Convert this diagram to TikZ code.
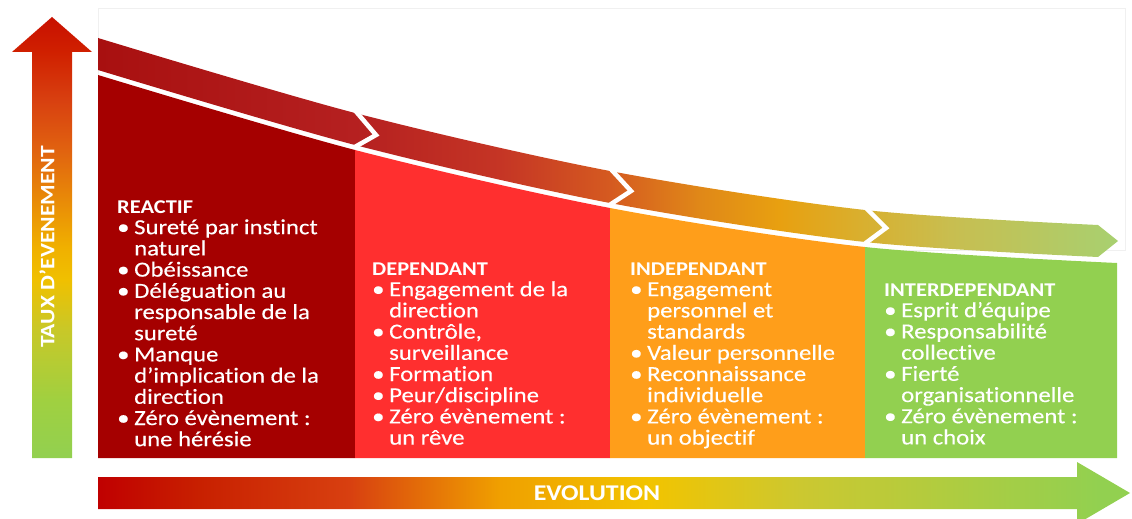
\documentclass[tikz,border=0pt]{standalone}
\usepackage{fontspec}
\setmainfont{Carlito}[FakeStretch=1.15,Ligatures={NoCommon},UprightFeatures={FakeBold=0.3}]
\usepackage{xcolor}
\definecolor{rouge1}{HTML}{A50000}
\definecolor{rouge2}{HTML}{FF2F2F}
\definecolor{orange3}{HTML}{FF9E1A}
\definecolor{vert4}{HTML}{92D050}
\definecolor{r0}{HTML}{A81010}
\definecolor{r1}{HTML}{B52020}
\definecolor{r2}{HTML}{C53525}
\definecolor{r3}{HTML}{D55A20}
\definecolor{r4}{HTML}{E08818}
\definecolor{r5}{HTML}{E8A010}
\definecolor{r6}{HTML}{D8B030}
\definecolor{r7}{HTML}{C8BE50}
\definecolor{r8}{HTML}{A8D070}
\definecolor{e0}{HTML}{C00000}
\definecolor{e1}{HTML}{C82000}
\definecolor{e2}{HTML}{D84010}
\definecolor{e3}{HTML}{F0A000}
\definecolor{e4}{HTML}{F2C400}
\definecolor{e5}{HTML}{CCC830}
\definecolor{t1}{HTML}{A0D040}
\definecolor{t2}{HTML}{C8C828}
\definecolor{t3}{HTML}{F0C000}
\definecolor{t4}{HTML}{F0B000}
\definecolor{t5}{HTML}{E06010}
\definecolor{t6}{HTML}{D02000}
\definecolor{t7}{HTML}{C81000}
\pgfdeclarehorizontalshading{ruban}{100bp}{color(0bp)=(r0); color(25bp)=(r0); color(37.6bp)=(r1); color(44.7bp)=(r2); color(50.1bp)=(r3); color(54.5bp)=(r4); color(58.4bp)=(r5); color(62.6bp)=(r6); color(66.8bp)=(r7); color(75bp)=(r8); color(100bp)=(r8)}
\pgfdeclarehorizontalshading{evolution}{100bp}{color(0bp)=(e0); color(25bp)=(e0); color(29.9bp)=(e1); color(37.2bp)=(e2); color(44.5bp)=(e3); color(51.7bp)=(e4); color(59bp)=(e5); color(73.5bp)=(vert4); color(100bp)=(vert4)}
\pgfdeclareverticalshading{taux}{100bp}{color(0bp)=(vert4); color(25bp)=(vert4); color(31.6bp)=(t1); color(39.5bp)=(t2); color(45.2bp)=(t3); color(48.9bp)=(t4); color(60.3bp)=(t5); color(65.6bp)=(e2); color(71bp)=(t6); color(75bp)=(t7); color(100bp)=(t7)}
\newcommand{\puce}{\makebox[17pt][l]{\textbullet}}
\newcommand{\suite}{\hspace*{17pt}}
\newcommand{\titre}[1]{{\bfseries\fontsize{19.5}{21.2}\selectfont #1}}

\begin{document}
\begin{tikzpicture}[x=1pt,y=-1pt]
	\tikzset{colonne/.style={anchor=base west,inner sep=0pt,text=white,font=\fontsize{21.5}{21.2}\selectfont},
		chevron/.style={draw=white,line width=4.5pt,miter limit=10}}
	\useasboundingbox (0,0) rectangle (1132,519);
	
	\draw[black!6] (98,8) rectangle (1125,250);
	\shade[shading=taux] (32,458) -- (32,52) -- (12,52) -- (52,17) -- (92,52) -- (72,52) -- (72,458) -- cycle;
	\shade[shading=ruban] plot[smooth] coordinates {(98,38) (355,113) (610,171) (865,210) (1098,225)} -- (1118,241) -- plot[smooth] coordinates {(1098,257) (865,242) (610,203) (355,145) (98,70)} -- cycle;
	\draw[chevron] (353,108) -- (376,135) -- (353,148);
	\draw[chevron] (608,166) -- (631,191) -- (608,206);
	\draw[chevron] (863,205) -- (886,228) -- (863,245);
	\foreach \xa/\xb/\coul in {98/355/rouge1, 355/610/rouge2, 610/865/orange3, 865/1117/vert4} {
		\begin{scope}
			\clip (\xa,0) rectangle (\xb,458);
			\fill[\coul] plot[smooth] coordinates {(98,75) (355,150) (610,208) (865,247) (1117,263)} -- (1117,458) -- (98,458) -- cycle;
		\end{scope}
	}
	\shade[shading=evolution] (98,477) -- (1077,477) -- (1077,462) -- (1130,493) -- (1077,524) -- (1077,509) -- (98,509) -- cycle;
	
	\node[text=white,font=\bfseries\fontsize{20.5}{22}\selectfont,rotate=90] (taux) at (47,247) {TAUX D’EVENEMENT};
	\node[text=white,font=\bfseries\fontsize{22.5}{24}\selectfont] (evolution) at (597,493) {EVOLUTION};
	
	\node[colonne] (reactif) at (117,213) {\parbox[t]{240pt}{\titre{REACTIF}\\
		\puce Sureté par instinct\\ \suite naturel\\
		\puce Obéissance\\
		\puce Déléguation au\\ \suite responsable de la\\ \suite sureté\\
		\puce Manque\\ \suite d’implication de la\\ \suite direction\\
		\puce Zéro évènement :\\ \suite une hérésie}};
	\node[colonne] (dependant) at (372,275) {\parbox[t]{240pt}{\titre{DEPENDANT}\\
		\puce Engagement de la\\ \suite direction\\
		\puce Contrôle,\\ \suite surveillance\\
		\puce Formation\\
		\puce Peur/discipline\\
		\puce Zéro évènement :\\ \suite un rêve}};
	\node[colonne] (independant) at (630,275) {\parbox[t]{240pt}{\titre{INDEPENDANT}\\
		\puce Engagement\\ \suite personnel et\\ \suite standards\\
		\puce Valeur personnelle\\
		\puce Reconnaissance\\ \suite individuelle\\
		\puce Zéro évènement :\\ \suite un objectif}};
	\node[colonne] (interdependant) at (884,296) {\parbox[t]{240pt}{\titre{INTERDEPENDANT}\\
		\puce Esprit d’équipe\\
		\puce Responsabilité\\ \suite collective\\
		\puce Fierté\\ \suite organisationnelle\\
		\puce Zéro évènement :\\ \suite un choix}};
\end{tikzpicture}
\end{document}
